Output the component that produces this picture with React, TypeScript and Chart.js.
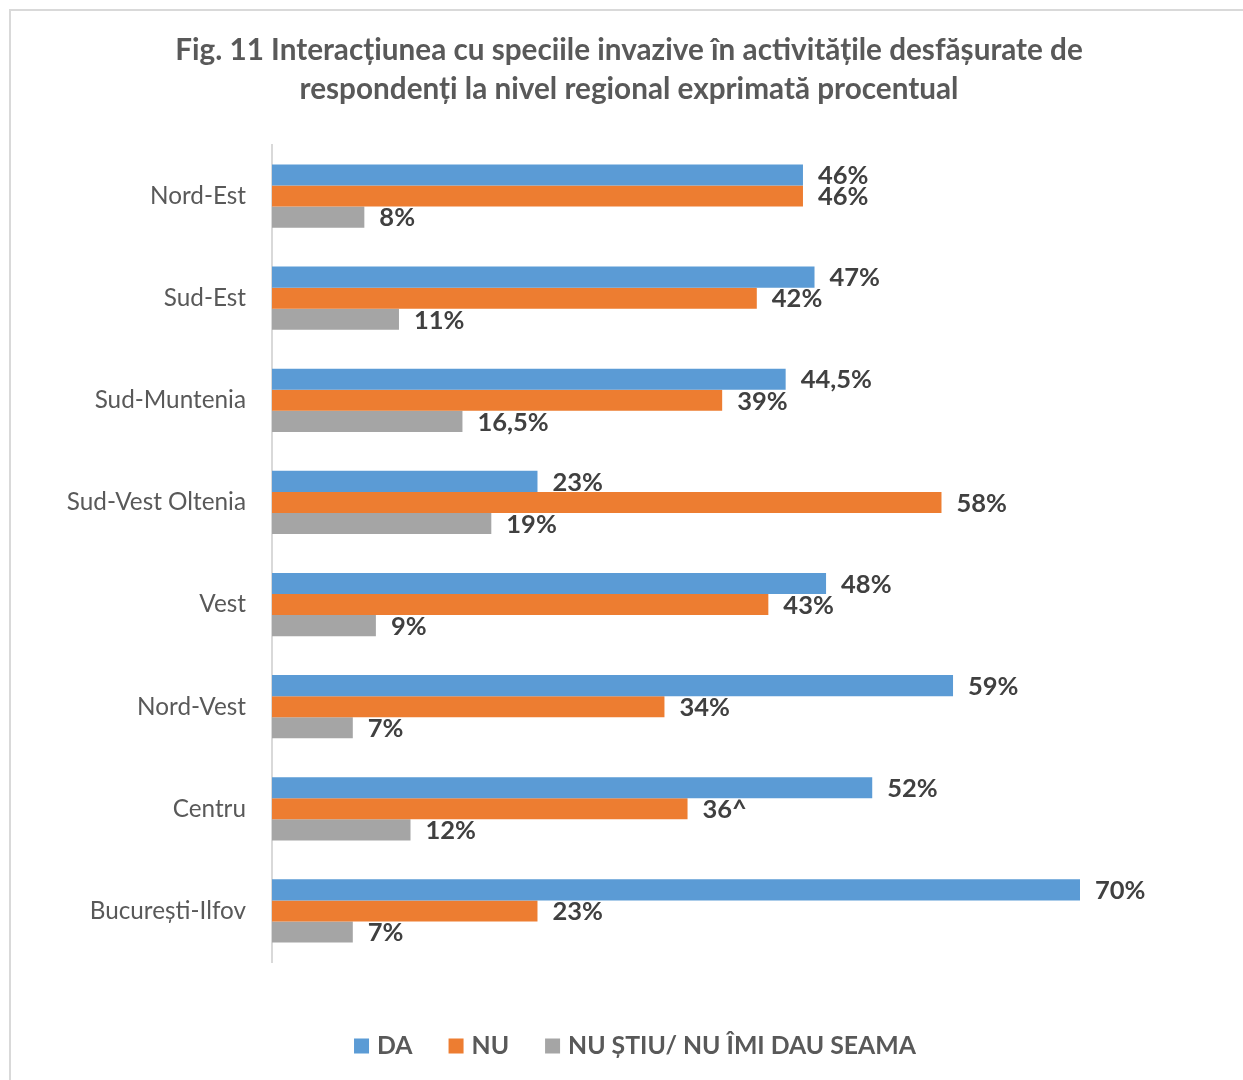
import React, { useEffect, useRef } from "react";
import { Chart, registerables } from "chart.js";

Chart.register(...registerables);

const TITLE_LINES = [
  "Fig. 11 Interacțiunea cu speciile invazive în activitățile desfășurate de",
  "respondenți la nivel regional exprimată procentual",
];
const REGIONS = [
  "Nord-Est",
  "Sud-Est",
  "Sud-Muntenia",
  "Sud-Vest Oltenia",
  "Vest",
  "Nord-Vest",
  "Centru",
  "București-Ilfov",
];
const SERIES_NAMES = ["DA", "NU", "NU ȘTIU/ NU ÎMI DAU SEAMA"];
const DA_VALUES = [46, 47, 44.5, 23, 48, 59, 52, 70];
const NU_VALUES = [46, 42, 39, 58, 43, 34, 36, 23];
const NS_VALUES = [8, 11, 16.5, 19, 9, 7, 12, 7];
const DA_LABELS = ["46%", "47%", "44,5%", "23%", "48%", "59%", "52%", "70%"];
const NU_LABELS = ["46%", "42%", "39%", "58%", "43%", "34%", "36^", "23%"];
const NS_LABELS = ["8%", "11%", "16,5%", "19%", "9%", "7%", "12%", "7%"];
const COLORS = ["#5B9BD5", "#ED7D31", "#A5A5A5"];

const FONT = "Lato, 'Open Sans', sans-serif";
const W = 1243;
const H = 1080;

export default function App() {
  const ref = useRef<HTMLCanvasElement | null>(null);

  useEffect(() => {
    if (!ref.current) return;
    const allLabels = [DA_LABELS, NU_LABELS, NS_LABELS];

    const decor = {
      id: "decor",
      afterDatasetsDraw(chart: any) {
        const ctx = chart.ctx;
        ctx.save();
        ctx.font = `bold 25.5px ${FONT}`;
        ctx.fillStyle = "#404040";
        ctx.textAlign = "left";
        ctx.textBaseline = "middle";
        chart.data.datasets.forEach((_: any, di: number) => {
          const meta = chart.getDatasetMeta(di);
          meta.data.forEach((el: any, i: number) => {
            ctx.fillText(allLabels[di][i], el.x + 15, el.y + 1);
          });
        });
        ctx.restore();
      },
      afterDraw(chart: any) {
        const ctx = chart.ctx;
        ctx.save();
        // title
        ctx.font = `bold 29.7px ${FONT}`;
        ctx.fillStyle = "#595959";
        ctx.textAlign = "center";
        ctx.textBaseline = "alphabetic";
        ctx.fillText(TITLE_LINES[0], 629, 60);
        ctx.fillText(TITLE_LINES[1], 629, 99);
        // legend
        ctx.font = `bold 24.8px ${FONT}`;
        ctx.textAlign = "left";
        ctx.textBaseline = "middle";
        const box = 15;
        const gapBoxText = 8;
        const gapItems = 36;
        const widths = SERIES_NAMES.map((n) => ctx.measureText(n).width);
        const total =
          widths.reduce((a: number, b: number) => a + b, 0) +
          SERIES_NAMES.length * (box + gapBoxText) +
          (SERIES_NAMES.length - 1) * gapItems;
        let x = 635 - total / 2;
        const cy = 1046;
        SERIES_NAMES.forEach((n, i) => {
          ctx.fillStyle = COLORS[i];
          ctx.fillRect(x, cy - box / 2, box, box);
          x += box + gapBoxText;
          ctx.fillStyle = "#595959";
          ctx.fillText(n, x, cy);
          x += widths[i] + gapItems;
        });
        ctx.restore();
      },
    };

    const chart = new Chart(ref.current, {
      type: "bar",
      data: {
        labels: REGIONS,
        datasets: [
          { label: SERIES_NAMES[0], data: DA_VALUES, backgroundColor: COLORS[0] },
          { label: SERIES_NAMES[1], data: NU_VALUES, backgroundColor: COLORS[1] },
          { label: SERIES_NAMES[2], data: NS_VALUES, backgroundColor: COLORS[2] },
        ],
      },
      options: {
        indexAxis: "y",
        responsive: false,
        animation: false,
        devicePixelRatio: 1,
        layout: { padding: { top: 145, bottom: 118, left: 0, right: 163 } },
        datasets: {
          bar: { categoryPercentage: 0.62, barPercentage: 1.0 },
        },
        plugins: {
          legend: { display: false },
          title: { display: false },
          tooltip: { enabled: false },
        },
        scales: {
          x: { display: false, min: 0, max: 70 },
          y: {
            grid: { display: false, drawTicks: false },
            border: { display: true, color: "#D9D9D9", width: 2 },
            ticks: {
              color: "#595959",
              font: { family: FONT, size: 24.3 },
              padding: 26,
            },
            afterFit(scale: any) {
              scale.width = 272;
            },
          },
        },
      },
      plugins: [decor],
    });
    return () => chart.destroy();
  }, []);

  return (
    <div style={{ position: "absolute", left: 0, top: 0, width: W, height: H, overflow: "hidden", background: "#fff" }}>
      <div
        style={{
          position: "absolute",
          left: 9,
          top: 9,
          width: 1250,
          height: 1100,
          border: "2px solid #D9D9D9",
          boxSizing: "border-box",
        }}
      />
      <canvas ref={ref} width={W} height={H} style={{ position: "absolute", left: 0, top: 0, width: W, height: H }} />
    </div>
  );
}
